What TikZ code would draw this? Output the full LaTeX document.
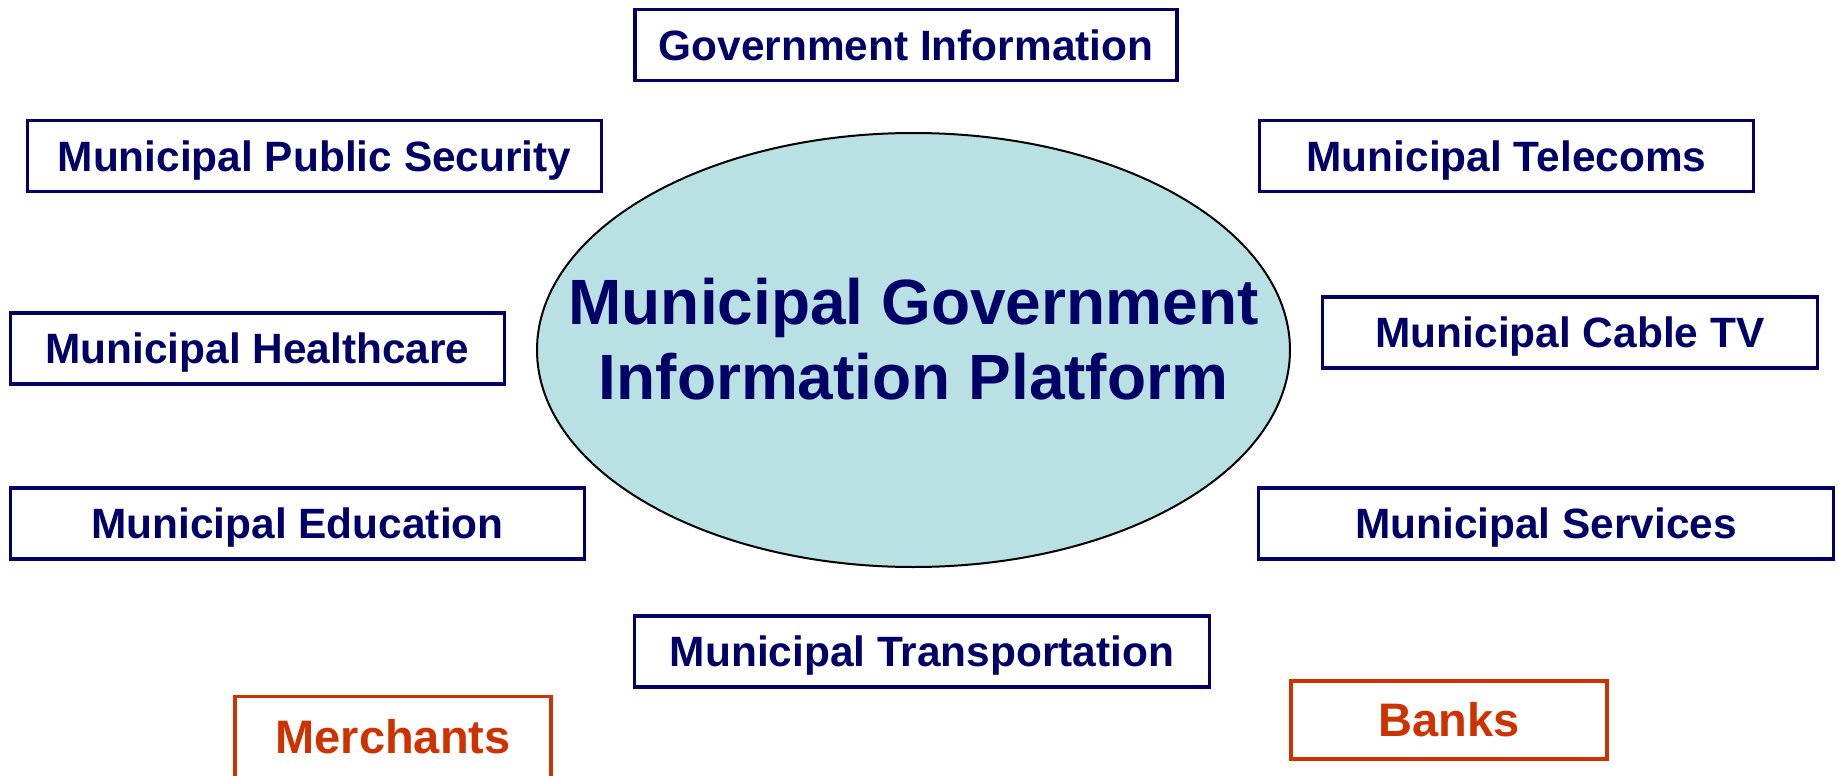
\documentclass[tikz,border=0pt]{standalone}
\usepackage{fontspec}
\setmainfont{Liberation Sans}
\usetikzlibrary{shapes.geometric}
\definecolor{navy}{HTML}{000066}
\definecolor{rust}{HTML}{CC3300}
\definecolor{paleteal}{HTML}{B9E0E3}

\begin{document}
\begin{tikzpicture}[x=0.5pt,y=-0.5pt,
	unitbox/.style={
		draw=navy,
		line width=1.75pt,
		text=navy,
		font=\bfseries\fontsize{21.2}{25}\selectfont,
		text height=15.2pt,
		text depth=0pt,
		minimum height=35.5pt,
		minimum width=#1,
		inner sep=0pt
	},
	partnerbox/.style={
		draw=rust,
		line width=1.6pt,
		text=rust,
		font=\bfseries\fontsize{23.5}{28}\selectfont,
		text height=16.8pt,
		text depth=0pt,
		minimum height=#1,
		minimum width=158pt,
		inner sep=0pt
	},
	platform/.style={
		ellipse,
		draw=black,
		line width=1pt,
		fill=paleteal,
		minimum width=376.5pt,
		minimum height=217pt,
		inner sep=0pt
	}
]
	\useasboundingbox (0,0) rectangle (1838,776);

	% the platform in the middle
	\node [platform] (core) at (913.5,350) {};
	\node [text=navy,font=\bfseries\fontsize{32}{37.5}\selectfont,align=center] (coretext) at (913.5,339) {Municipal Government\\Information Platform};

	% municipal units round it
	\node [unitbox=271pt] (govinfo) at (906,45) {Government Information};
	\node [unitbox=287pt] (security) at (314.5,156) {Municipal Public Security};
	\node [unitbox=247pt] (telecoms) at (1506.5,156) {Municipal Telecoms};
	\node [unitbox=247pt] (health) at (257.5,348.5) {Municipal Healthcare};
	\node [unitbox=247.5pt] (cabletv) at (1570,332.5) {Municipal Cable TV};
	\node [unitbox=287pt] (education) at (297.5,523.5) {Municipal Education};
	\node [unitbox=287.5pt] (services) at (1546,523.5) {Municipal Services};
	\node [unitbox=287.5pt] (transport) at (922,651.5) {Municipal Transportation};

	% outside partners
	\node [partnerbox=40.25pt] (merchants) at (393,737) {Merchants};
	\node [partnerbox=39pt] (banks) at (1449,720) {Banks};
\end{tikzpicture}
\end{document}
